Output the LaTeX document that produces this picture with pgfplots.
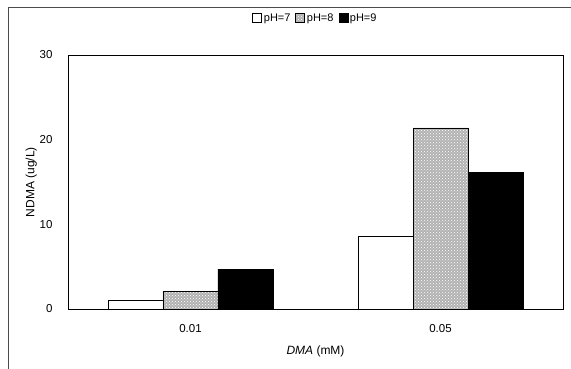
\documentclass[border=0pt]{standalone}
\usepackage{fontspec}
\setmainfont{Liberation Sans}
\usepackage{pgfplots}
\pgfplotsset{compat=1.18}
\usetikzlibrary{calc,patterns}
\begin{document}
\begin{tikzpicture}
\begin{axis}[
  scale only axis,
  width=495pt, height=254pt,
  ybar, bar width=0.22,
  xmin=-0.49, xmax=1.49,
  ymin=0, ymax=30,
  ytick={0,10,20,30},
  xtick={0,1}, xticklabels={0.01,0.05},
  major tick length=0pt,
  tick label style={font=\fontsize{11.5}{13}\selectfont},
  /pgf/number format/assume math mode=true,
  yticklabel style={xshift=-12pt},
  xticklabel style={yshift=-12pt},
  ylabel={NDMA (ug/L)},
  xlabel={\textit{DMA} (mM)},
  label style={font=\fontsize{12}{14}\selectfont},
  ylabel style={yshift=-4pt},
  xlabel style={yshift=-6pt},
  legend style={at={(0.5,1)}, anchor=south, yshift=28pt, draw=none,
    legend columns=-1, font=\fontsize{11}{13}\selectfont,
    /tikz/every even column/.append style={column sep=3pt}},
  legend image code/.code={\draw[#1] (0pt,-4pt) rectangle (9pt,5pt);},
  axis line style={black, line width=0.8pt},
]
\addplot[draw=black, fill=white, bar shift=-0.22] coordinates {(0,1.05) (1,8.6)};
\addplot[draw=black, fill=black!30, postaction={pattern=crosshatch dots, pattern color=white}, bar shift=0] coordinates {(0,2.1) (1,21.4)};
\addplot[draw=black, fill=black, bar shift=0.22] coordinates {(0,4.7) (1,16.1)};
\legend{pH=7,pH=8,pH=9}
\end{axis}
\path[use as bounding box] ($(current axis.south west)+(-68pt,-60pt)$) rectangle ($(current axis.north east)+(8pt,55pt)$);
\draw[black!70, line width=0.6pt] ($(current axis.south west)+(-60pt,-62pt)$) -- ($(current axis.north west)+(-60pt,48pt)$) -- ($(current axis.north east)+(9pt,48pt)$);
\end{tikzpicture}
\end{document}
